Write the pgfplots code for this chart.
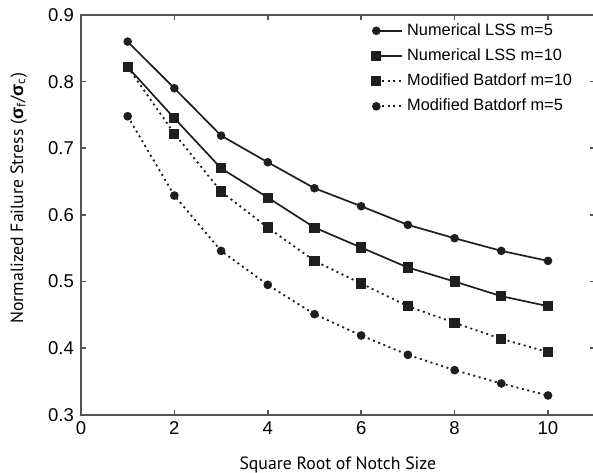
\documentclass[border=0pt]{standalone}
\usepackage{pgfplots}
\pgfplotsset{compat=1.18}
\usetikzlibrary{calc}
\usepackage{fontspec}
\setmainfont{Liberation Sans}
\newfontfamily\labelfont{PT Sans}
\newfontfamily\greekfont{Liberation Sans}

\definecolor{axgray}{HTML}{555555}
\definecolor{ink}{HTML}{1E1E1E}

\begin{document}
\begin{tikzpicture}
\begin{axis}[
    name=main,
    scale only axis,
    width=257bp, height=200bp,
    xmin=0, xmax=11,
    ymin=0.3, ymax=0.9,
    xtick={0,2,4,6,8,10},
    ytick={0.3,0.4,0.5,0.6,0.7,0.8,0.9},
    yticklabel style={/pgf/number format/.cd, fixed, fixed zerofill, precision=1},
    /pgf/number format/assume math mode=true,
    tick align=inside,
    major tick length=2.5bp,
    axis line style={axgray, line width=1bp},
    tick style={axgray, line width=0.8bp},
    ticklabel style={font=\fontsize{9.3}{10}\selectfont},
    xlabel={Square Root of Notch Size},
    ylabel={Normalized Failure Stress ({\greekfont\bfseries σ}\textsubscript{f}/{\greekfont\bfseries σ}\textsubscript{c})},
    label style={font=\labelfont\fontsize{8.9}{10}\selectfont},
    xlabel style={at={(axis description cs:0.5,-0.125)}, anchor=center},
    ylabel style={at={(axis description cs:-0.121,0.542)}, anchor=center},
    legend style={draw=none, fill=none, at={(rel axis cs:0.566,0.99)}, anchor=north west,
        font=\fontsize{8.2}{9}\selectfont, inner sep=0pt, row sep=1.2bp,
        /tikz/every even column/.append style={column sep=2bp}},
    legend cell align=left,
    legend image code/.code={
        \draw[#1, mark repeat=3, mark phase=1] plot coordinates {(0bp,0bp) (6.5bp,0bp) (13bp,0bp)};
    },
]
% Numerical LSS m=5
\addplot[ink, line width=0.85bp, mark=*, mark size=1.7bp, mark options={solid}] coordinates {
    (1,0.860) (2,0.790) (3,0.719) (4,0.679) (5,0.640)
    (6,0.613) (7,0.585) (8,0.565) (9,0.546) (10,0.531)
};
\addlegendentry{Numerical LSS m=5}
% Numerical LSS m=10
\addplot[ink, line width=0.85bp, mark=square*, mark size=2.1bp, mark options={solid}] coordinates {
    (1,0.822) (2,0.745) (3,0.670) (4,0.626) (5,0.581)
    (6,0.551) (7,0.521) (8,0.500) (9,0.478) (10,0.463)
};
\addlegendentry{Numerical LSS m=10}
% Modified Batdorf m=10
\addplot[ink, line width=0.9bp, dash pattern=on 1bp off 1.8bp, mark=square*, mark size=2.1bp, mark options={solid}] coordinates {
    (1,0.822) (2,0.722) (3,0.635) (4,0.581) (5,0.531)
    (6,0.497) (7,0.463) (8,0.438) (9,0.414) (10,0.394)
};
\addlegendentry{Modified Batdorf m=10}
% Modified Batdorf m=5
\addplot[ink, line width=0.9bp, dash pattern=on 1bp off 1.8bp, mark=*, mark size=1.7bp, mark options={solid}] coordinates {
    (1,0.748) (2,0.629) (3,0.546) (4,0.495) (5,0.451)
    (6,0.419) (7,0.390) (8,0.367) (9,0.347) (10,0.329)
};
\addlegendentry{Modified Batdorf m=5}
\end{axis}
\pgfresetboundingbox
\useasboundingbox ($(main.south west)+(-40.5bp,-29bp)$) rectangle ($(main.north east)+(-0.85bp,7.5bp)$);
\end{tikzpicture}
\end{document}
